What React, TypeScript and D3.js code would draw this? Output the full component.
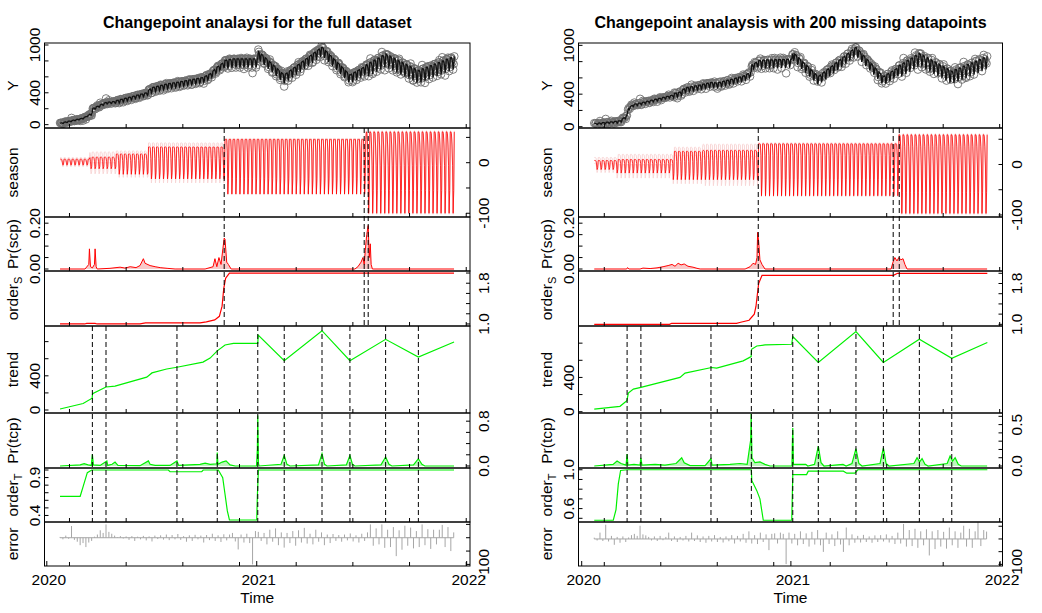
import React from "react";
import * as d3 from "d3";

// ---------------- DATA ----------------
const TIME_TICKS = [2020.108, 2020.378, 2020.648, 2020.918, 2021.188, 2021.458, 2021.728, 2021.998];
const YEAR_TICKS = [2020, 2021, 2022];
const MISSING_PHASE = [1, 4, 8]; // day index mod 10 that are missing in the right panel

// ----- full dataset (left) -----
const L_START = 2020.063;
const L_END = 2021.94;
const L_TREND_X = [2020.063, 2020.173, 2020.216, 2020.218, 2020.282, 2020.325, 2020.476, 2020.501, 2020.571, 2020.62, 2020.744, 2020.778, 2020.812, 2020.849, 2020.889, 2021.005, 2021.007, 2021.131, 2021.311, 2021.444, 2021.614, 2021.77, 2021.94];
const L_TREND_V = [12, 76, 138, 192, 269, 280, 384, 434, 480, 500, 561, 607, 692, 761, 779, 779, 876, 577, 928, 577, 827, 619, 796];
const L_SEASON_START = [2020.063, 2020.205, 2020.33, 2020.48, 2020.845, 2021.52];
const L_SEASON_PROFILE = [
  [7, 7, 7, 6, 1, -5, -3],
  [11, 11, 11, 10, 2, -12, -8],
  [17, 17, 17, 16, 4, -23, -12],
  [31, 31, 31, 30, 8, -32, -20],
  [46, 46, 46, 46, 21, -62, -32],
  [61, 61, 58, 35, -5, -100, -55],
];
const L_SEASON_CI = [3, 10, 6, 8, 2, 2];
const L_SEASON_CP = [2020.845, 2021.512, 2021.531];
const L_TREND_CP = [2020.217, 2020.282, 2020.62, 2020.812, 2021.005, 2021.131, 2021.311, 2021.444, 2021.614, 2021.77];
const L_PRSCP_X = [2020.063, 2020.182, 2020.2, 2020.203, 2020.208, 2020.217, 2020.227, 2020.23, 2020.235, 2020.24, 2020.301, 2020.349, 2020.373, 2020.397, 2020.425, 2020.444, 2020.46, 2020.468, 2020.492, 2020.516, 2020.54, 2020.573, 2020.611, 2020.754, 2020.792, 2020.801, 2020.81, 2020.82, 2020.83, 2020.839, 2020.845, 2020.849, 2020.857, 2020.865, 2020.878, 2021.468, 2021.482, 2021.497, 2021.506, 2021.512, 2021.517, 2021.524, 2021.531, 2021.536, 2021.541, 2021.545, 2021.551, 2021.94];
const L_PRSCP_V = [0, 0, 0.02, 0.088, 0.01, 0.005, 0.02, 0.088, 0.01, 0, 0.003, 0.008, 0.004, 0.01, 0.006, 0.015, 0.045, 0.025, 0.015, 0.01, 0.006, 0.003, 0, 0, 0.01, 0.045, 0.01, 0.05, 0.02, 0.09, 0.135, 0.13, 0.03, 0.02, 0, 0, 0.01, 0.03, 0.05, 0.02, 0.08, 0.15, 0.19, 0.05, 0.11, 0.02, 0, 0];
const L_ORDERS_X = [2020.063, 2020.18, 2020.19, 2020.23, 2020.24, 2020.444, 2020.47, 2020.73, 2020.76, 2020.8, 2020.822, 2020.835, 2020.843, 2020.852, 2020.87, 2021.94];
const L_ORDERS_V = [1.0, 1.0, 1.01, 1.01, 1.0, 1.0, 1.02, 1.02, 1.04, 1.08, 1.15, 1.35, 1.7, 1.9, 2.0, 2.0];
const L_PRTCP_X = [2020.063, 2020.159, 2020.178, 2020.197, 2020.212, 2020.217, 2020.222, 2020.254, 2020.286, 2020.29, 2020.311, 2020.325, 2020.339, 2020.444, 2020.484, 2020.492, 2020.516, 2020.587, 2020.62, 2020.628, 2020.73, 2020.754, 2020.778, 2020.81, 2020.812, 2020.815, 2020.835, 2020.854, 2020.873, 2020.897, 2020.999, 2021.003, 2021.005, 2021.008, 2021.011, 2021.116, 2021.131, 2021.144, 2021.159, 2021.294, 2021.311, 2021.323, 2021.335, 2021.427, 2021.444, 2021.456, 2021.468, 2021.592, 2021.614, 2021.63, 2021.644, 2021.747, 2021.77, 2021.787, 2021.801, 2021.94];
const L_PRTCP_V = [0, 0.02, 0.04, 0.02, 0.01, 0.21, 0.02, 0.01, 0.09, 0.01, 0.03, 0.07, 0.01, 0.005, 0.09, 0.03, 0.01, 0.01, 0.09, 0.01, 0.03, 0.05, 0.03, 0.04, 0.24, 0.03, 0.07, 0.09, 0.02, 0, 0, 0.3, 0.9, 0.05, 0, 0.03, 0.19, 0.03, 0, 0.02, 0.22, 0.03, 0, 0.02, 0.19, 0.03, 0, 0.02, 0.16, 0.03, 0, 0.02, 0.13, 0.03, 0, 0];
const L_ORDERT_X = [2020.063, 2020.159, 2020.174, 2020.193, 2020.214, 2020.579, 2020.587, 2020.738, 2020.745, 2020.817, 2020.838, 2020.849, 2020.86, 2020.87, 2021.0, 2021.003, 2021.008, 2021.94];
const L_ORDERT_V = [0.653, 0.653, 0.79, 0.965, 1.0, 1.0, 0.977, 0.977, 1.0, 1.0, 0.9, 0.68, 0.46, 0.34, 0.34, 0.656, 1.0, 1.0];
const L_ERROR = [
  3, -6, 8, -4, 44, -8, -15, -28, -20, -35, -18, -12, 4, 12, 28, 18, 50, 22, 15, 8, 2, 6, -3, 5,
  -8, 6, -12, 4, -6, 7, -10, 5, -14, 8, -5, 9, -7, 12, -9, 10, -6, 14, -8, 6, -15, 9, -12, 11,
  -6, 8, -18, 10, -9, 15, -12, 9, -16, 13, -10, 12, 18, -14, -44, 12, -18, 15, -20, -100, 25, 22,
  -12, 18, -25, 30, -15, 35, -28, 20, -37, 18, -20, 25, -30, 28, -18, 37, -22, 15, -25, 30, -15, 20,
  -28, 12, -20, 14, -12, 10, -15, 12, -10, 16, -14, 9, -18, 15, -12, 20, 50, -30, 35, -25, 50, -38,
  30, -35, 40, -69, 28, -45, 45, -30, 38, -40, 25, -35, 50, -28, 32, -42, 30, -25, 30, 48, -35, 40, -50, 20,
];

// ----- 200 missing datapoints (right) -----
const R_START = 2020.06;
const R_END = 2021.939;
const R_TREND_X = [2020.06, 2020.183, 2020.216, 2020.223, 2020.247, 2020.283, 2020.47, 2020.494, 2020.621, 2020.645, 2020.772, 2020.81, 2020.812, 2020.837, 2020.876, 2021.004, 2021.009, 2021.131, 2021.311, 2021.442, 2021.614, 2021.769, 2021.939];
const R_TREND_V = [31, 63, 128, 217, 264, 284, 400, 450, 516, 508, 593, 644, 729, 767, 779, 787, 877, 574, 935, 574, 845, 624, 807];
const R_SEASON_START = [2020.06, 2020.169, 2020.437, 2020.58, 2020.843, 2021.516];
const R_SEASON_PROFILE = [
  [8, 8, 8, 7, 1, -10, -6],
  [10, 10, 10, 9, 2, -17, -10],
  [26, 26, 26, 25, 6, -30, -18],
  [28, 28, 28, 27, 8, -30, -20],
  [41, 41, 41, 40, 18, -62, -30],
  [59, 59, 56, 35, -3, -97, -55],
];
const R_SEASON_CI = [6, 10, 8, 12, 2, 2];
const R_SEASON_CP = [2020.844, 2021.489, 2021.518];
const R_TREND_CP = [2020.217, 2020.283, 2020.618, 2020.811, 2021.009, 2021.131, 2021.311, 2021.442, 2021.614, 2021.769];
const R_PRSCP_X = [2020.06, 2020.215, 2020.219, 2020.226, 2020.279, 2020.293, 2020.327, 2020.36, 2020.389, 2020.413, 2020.432, 2020.446, 2020.461, 2020.475, 2020.49, 2020.508, 2020.532, 2020.551, 2020.566, 2020.781, 2020.805, 2020.819, 2020.831, 2020.838, 2020.841, 2020.846, 2020.852, 2020.862, 2020.876, 2021.479, 2021.488, 2021.497, 2021.507, 2021.516, 2021.526, 2021.536, 2021.545, 2021.555, 2021.938];
const R_PRSCP_V = [0, 0, 0.006, 0, 0, 0.004, 0.002, 0.005, 0.01, 0.015, 0.02, 0.012, 0.025, 0.018, 0.022, 0.012, 0.008, 0.003, 0, 0, 0.01, 0.025, 0.02, 0.05, 0.16, 0.12, 0.04, 0.02, 0, 0, 0.03, 0.05, 0.035, 0.05, 0.04, 0.045, 0.02, 0, 0];
const R_ORDERS_X = [2020.06, 2020.42, 2020.43, 2020.74, 2020.76, 2020.8, 2020.825, 2020.833, 2020.84, 2020.846, 2020.862, 2021.49, 2021.51, 2021.939];
const R_ORDERS_V = [1.0, 1.0, 1.02, 1.02, 1.04, 1.08, 1.2, 1.35, 1.6, 1.8, 1.96, 1.96, 2.0, 2.0];
const R_PRTCP_X = [2020.06, 2020.15, 2020.169, 2020.188, 2020.212, 2020.217, 2020.221, 2020.25, 2020.279, 2020.283, 2020.288, 2020.351, 2020.398, 2020.451, 2020.478, 2020.49, 2020.518, 2020.59, 2020.618, 2020.623, 2020.709, 2020.757, 2020.791, 2020.808, 2020.81, 2020.814, 2020.828, 2020.852, 2020.876, 2020.9, 2021.005, 2021.007, 2021.009, 2021.012, 2021.071, 2021.081, 2021.113, 2021.131, 2021.144, 2021.158, 2021.249, 2021.264, 2021.292, 2021.311, 2021.325, 2021.34, 2021.426, 2021.442, 2021.455, 2021.469, 2021.588, 2021.603, 2021.615, 2021.627, 2021.641, 2021.656, 2021.747, 2021.761, 2021.773, 2021.785, 2021.8, 2021.814, 2021.938];
const R_PRTCP_V = [0, 0.02, 0.06, 0.03, 0.01, 0.145, 0.01, 0.02, 0.01, 0.1, 0.01, 0.02, 0.01, 0.03, 0.1, 0.04, 0.005, 0.005, 0.09, 0.01, 0.02, 0.03, 0.02, 0.32, 0.63, 0.1, 0.04, 0.05, 0.02, 0, 0, 0.28, 0.46, 0.02, 0.02, 0, 0.02, 0.24, 0.04, 0, 0.02, 0, 0.03, 0.21, 0.03, 0, 0.03, 0.22, 0.03, 0, 0.03, 0.1, 0.05, 0.09, 0.02, 0, 0.03, 0.12, 0.06, 0.1, 0.02, 0, 0];
const R_ORDERT_X = [2020.06, 2020.151, 2020.164, 2020.175, 2020.186, 2020.217, 2020.811, 2020.813, 2020.837, 2020.852, 2020.868, 2021.004, 2021.009, 2021.075, 2021.083, 2021.251, 2021.267, 2021.306, 2021.32, 2021.939];
const R_ORDERT_V = [0.48, 0.48, 0.59, 0.855, 0.993, 1.0, 1.0, 0.89, 0.785, 0.7, 0.48, 0.48, 0.95, 0.95, 0.985, 0.985, 0.965, 0.965, 1.0, 1.0];
const R_ERROR = [
  5, -6, 25, -8, 56, -10, 12, -23, 8, -15, 10, -12, 6, 15, 20, 12, 52, 18, 14, 8, -6, 10, -8, 12,
  -5, 8, 25, -8, 10, -12, 8, -6, 12, -10, 25, -8, 14, -12, 10, -15, 12, -10, 15, -12, 8, -14, 10, -9,
  15, -18, 12, -10, 20, -15, 30, -18, 15, -20, 25, -12, 18, -44, 20, 22, -18, 25, 20, -99, 25, -18,
  20, -25, 30, -20, 22, -30, 28, -22, 35, -25, -51, 25, -20, 18, -28, 30, -22, -51, 45, -25, 18, -15,
  12, -14, 16, -12, 10, -15, 14, -12, 15, -10, 18, -14, 12, -20, 25, -18, 59, -30, 35, -28, 40, -35,
  30, -25, 38, -65, 30, -40, 35, -30, 28, -38, 45, -25, 30, -35, 25, 52, -30, 40, -35, 30, 66, -28, 35, 29,
];

// axis specifications (domains, ticks, labels) per sub-plot
const ROW_NAMES = ["Y", "season", "Pr(scp)", "order", "trend", "Pr(tcp)", "order", "error"];
const ROW_SUBS = ["", "", "", "S", "", "", "T", ""];
const ROW_SIDES = ["l", "r", "l", "r", "l", "r", "l", "r"];
const L_DOMAINS = [[-42, 1025], [-107.4, 68.6], [-0.0087, 0.227], [0.96, 2.04], [-35, 983], [-0.036, 0.946], [0.3136, 1.0264], [-106, 59]];
const R_DOMAINS = [[-16, 1029], [-104, 72.3], [-0.0087, 0.227], [0.967, 2.045], [-15, 1000], [-0.024, 0.64], [0.462, 1.018], [-106.4, 66.7]];
const L_TICKS = [[0, 200, 400, 600, 800, 1000], [-100, -50, 0, 50], [0, 0.05, 0.1, 0.15, 0.2], [1, 1.2, 1.4, 1.6, 1.8, 2], [0, 200, 400, 600, 800], [0, 0.2, 0.4, 0.6, 0.8], [0.4, 0.5, 0.6, 0.7, 0.8, 0.9, 1.0], [-100, -50, 0, 50]];
const R_TICKS = [[0, 200, 400, 600, 800, 1000], [-100, -50, 0, 50], [0, 0.05, 0.1, 0.15, 0.2], [1, 1.2, 1.4, 1.6, 1.8, 2], [0, 200, 400, 600, 800], [0, 0.1, 0.2, 0.3, 0.4, 0.5, 0.6], [0.5, 0.6, 0.7, 0.8, 0.9, 1.0], [-100, -50, 0, 50]];
const L_LABELS = [[[0, "0"], [400, "400"], [1000, "1000"]], [[-100, "-100"], [0, "0"]], [[0, "0.00"], [0.2, "0.20"]], [[1, "1.0"], [1.8, "1.8"]], [[0, "0"], [400, "400"]], [[0, "0.0"], [0.8, "0.8"]], [[0.4, "0.4"], [0.9, "0.9"]], [[-100, "-100"]]];
const R_LABELS = [[[0, "0"], [400, "400"], [1000, "1000"]], [[-100, "-100"], [0, "0"]], [[0, "0.00"], [0.2, "0.20"]], [[1, "1.0"], [1.8, "1.8"]], [[0, "0"], [400, "400"]], [[0, "0.0"], [0.5, "0.5"]], [[0.6, "0.6"], [1.0, "1.0"]], [[-100, "-100"]]];

const L_TITLE = "Changepoint analaysi for the full dataset";
const R_TITLE = "Changepoint analaysis with 200 missing datapoints";

// ---------------- LAYOUT / STYLE ----------------
const W = 1042;
const H = 613;
const ROWS = [43, 128, 217, 271, 326, 413, 468, 522, 566];
const FONT = "'Liberation Sans', Arial, Helvetica, sans-serif";
const FS = 15.5;
const RED = "#FF0000";
const GREEN = "#00F000";

const LEFT = {
  id: "L", x0: 44.5, x1: 470, xDomain: [2019.989, 2022.016], title: L_TITLE,
  start: L_START, end: L_END, trendX: L_TREND_X, trendV: L_TREND_V,
  seasonStart: L_SEASON_START, seasonProfile: L_SEASON_PROFILE, seasonCI: L_SEASON_CI,
  seasonCP: L_SEASON_CP, trendCP: L_TREND_CP, prscpX: L_PRSCP_X, prscpV: L_PRSCP_V,
  ordersX: L_ORDERS_X, ordersV: L_ORDERS_V, prtcpX: L_PRTCP_X, prtcpV: L_PRTCP_V,
  ordertX: L_ORDERT_X, ordertV: L_ORDERT_V, error: L_ERROR, missing: false,
  domains: L_DOMAINS, ticks: L_TICKS, labels: L_LABELS,
};
const RIGHT = {
  id: "R", x0: 578.5, x1: 1002.5, xDomain: [2019.9847, 2022.0115], title: R_TITLE,
  start: R_START, end: R_END, trendX: R_TREND_X, trendV: R_TREND_V,
  seasonStart: R_SEASON_START, seasonProfile: R_SEASON_PROFILE, seasonCI: R_SEASON_CI,
  seasonCP: R_SEASON_CP, trendCP: R_TREND_CP, prscpX: R_PRSCP_X, prscpV: R_PRSCP_V,
  ordersX: R_ORDERS_X, ordersV: R_ORDERS_V, prtcpX: R_PRTCP_X, prtcpV: R_PRTCP_V,
  ordertX: R_ORDERT_X, ordertV: R_ORDERT_V, error: R_ERROR, missing: true,
  domains: R_DOMAINS, ticks: R_TICKS, labels: R_LABELS,
};

function Panel({ p }: { p: any }) {
  const { x0, x1 } = p;
  const xs = d3.scaleLinear().domain(p.xDomain).range([x0, x1]);
  const ys = ROWS.slice(0, 8).map((top, r) =>
    d3.scaleLinear().domain(p.domains[r]).range([ROWS[r + 1], top])
  );

  // daily decomposition: fitted = trend + season, observed = fitted + error
  const n = Math.round((p.end - p.start) * 365.25);
  const days = d3.range(n + 1);
  const tOf = (i: number) => p.start + i / 365.25;
  const trendAt = d3.scaleLinear().domain(p.trendX).range(p.trendV).clamp(true);
  const segOf = (t: number) => Math.max(0, d3.bisectRight(p.seasonStart, t) - 1);
  const season = days.map((i) => p.seasonProfile[segOf(tOf(i))][i % 7]);
  const ci = days.map((i) => p.seasonCI[segOf(tOf(i))]);
  const fitted = days.map((i) => trendAt(tOf(i)) + season[i]);
  const obsDays = days.filter((i) => !(p.missing && MISSING_PHASE.includes(i % 10)));
  const obs = obsDays.map((i) => ({
    t: tOf(i),
    v: fitted[i] + (i % 5 === 0 ? p.error[i / 5] ?? 0 : 0),
  }));

  const lineIdx = (r: number, vals: number[]) =>
    d3.line<number>().x((i) => xs(tOf(i))).y((i) => ys[r](vals[i]))(days) || "";
  const lineXY = (r: number, X: number[], V: number[]) =>
    d3.line<number>().x((_, k) => xs(X[k])).y((v) => ys[r](v))(V) || "";
  const areaXY = (r: number, X: number[], V: number[]) =>
    d3.area<number>().x((_, k) => xs(X[k])).y0(ys[r](0)).y1((v) => ys[r](v))(V) || "";
  const errX = (k: number) => xs(p.start + (k * 5) / 365.25);
  const errNeedles = p.error
    .map((v: number, k: number) => `M${errX(k)},${ys[7](0)}L${errX(k)},${ys[7](v)}`)
    .join("");

  const upper = days.map((i) => season[i] + ci[i]);
  const lower = days.map((i) => season[i] - ci[i]);

  const clip = (r: number) => `url(#clip${p.id}${r})`;

  return (
    <g>
      <defs>
        {ROWS.slice(0, 8).map((top, r) => (
          <clipPath id={`clip${p.id}${r}`} key={r}>
            <rect x={x0} y={top} width={x1 - x0} height={ROWS[r + 1] - top} />
          </clipPath>
        ))}
      </defs>
      <text x={(x0 + x1) / 2} y={28} textAnchor="middle" fontWeight="bold" fontSize={16}>
        {p.title}
      </text>

      {/* Y */}
      <g clipPath={clip(0)}>
        {obs.map((o: any, k: number) => (
          <circle key={k} cx={xs(o.t)} cy={ys[0](o.v)} r={3.8} fill="none" stroke="#6f6f6f" strokeWidth={0.9} />
        ))}
        <path d={lineIdx(0, fitted)} fill="none" stroke="#111" strokeWidth={1.3} />
      </g>
      {/* season */}
      <g clipPath={clip(1)}>
        <path d={lineIdx(1, upper)} fill="none" stroke="#F8D6D6" strokeWidth={1} />
        <path d={lineIdx(1, lower)} fill="none" stroke="#F8D6D6" strokeWidth={1} />
        <path d={lineIdx(1, season)} fill="none" stroke={RED} strokeWidth={0.8} />
      </g>
      {/* Pr(scp) */}
      <g clipPath={clip(2)}>
        <path d={areaXY(2, p.prscpX, p.prscpV)} fill="#F9C9C9" stroke="none" />
        <path d={lineXY(2, p.prscpX, p.prscpV)} fill="none" stroke={RED} strokeWidth={1} />
      </g>
      {/* orders */}
      <g clipPath={clip(3)}>
        <path d={lineXY(3, p.ordersX, p.ordersV)} fill="none" stroke={RED} strokeWidth={1.2} />
      </g>
      {/* trend */}
      <g clipPath={clip(4)}>
        <path d={lineXY(4, p.trendX, p.trendV)} fill="none" stroke={GREEN} strokeWidth={1.2} />
      </g>
      {/* Pr(tcp) */}
      <g clipPath={clip(5)}>
        <path d={areaXY(5, p.prtcpX, p.prtcpV)} fill="#BDF5BD" stroke="none" />
        <path d={lineXY(5, p.prtcpX, p.prtcpV)} fill="none" stroke={GREEN} strokeWidth={1.2} />
      </g>
      {/* orderT */}
      <g clipPath={clip(6)}>
        <path d={lineXY(6, p.ordertX, p.ordertV)} fill="none" stroke={GREEN} strokeWidth={1.2} />
      </g>
      {/* error */}
      <g clipPath={clip(7)}>
        <line x1={errX(0)} x2={errX(p.error.length - 1)} y1={ys[7](0)} y2={ys[7](0)} stroke="#A6A6A6" strokeWidth={1} />
        <path d={errNeedles} fill="none" stroke="#A6A6A6" strokeWidth={1} />
      </g>

      {/* changepoint lines */}
      {p.seasonCP.map((c: number, k: number) => (
        <line key={"s" + k} x1={xs(c)} x2={xs(c)} y1={ROWS[1]} y2={ROWS[4]} stroke="#000" strokeDasharray="5,3" strokeWidth={1} />
      ))}
      {p.trendCP.map((c: number, k: number) => (
        <line key={"t" + k} x1={xs(c)} x2={xs(c)} y1={ROWS[4]} y2={ROWS[7]} stroke="#000" strokeDasharray="5,3" strokeWidth={1} />
      ))}

      {/* frames, ticks and labels */}
      {ROWS.slice(0, 8).map((top, r) => {
        const bot = ROWS[r + 1];
        const side = ROW_SIDES[r];
        const ax = side === "l" ? x0 : x1;
        const dir = side === "l" ? 1 : -1;
        const mid = (top + bot) / 2;
        return (
          <g key={r}>
            <rect x={x0} y={top} width={x1 - x0} height={bot - top} fill="none" stroke="#000" strokeWidth={1} />
            {p.ticks[r].map((tv: number, k: number) => (
              <line key={k} x1={ax} x2={ax + dir * 4} y1={ys[r](tv)} y2={ys[r](tv)} stroke="#000" />
            ))}
            {p.labels[r].map((lb: any, k: number) => (
              <text
                key={"l" + k}
                transform={`translate(${side === "l" ? x0 - 5 : x1 + 19},${ys[r](lb[0])}) rotate(-90)`}
                textAnchor="middle"
                fontSize={FS}
              >
                {lb[1]}
              </text>
            ))}
            {TIME_TICKS.map((tv, k) => (
              <line key={"x" + k} x1={xs(tv)} x2={xs(tv)} y1={bot} y2={bot - 4} stroke="#000" />
            ))}
            <text transform={`translate(${x0 - 27},${mid}) rotate(-90)`} textAnchor="middle" fontSize={FS}>
              {ROW_NAMES[r]}
              {ROW_SUBS[r] ? (
                <tspan dy={4} fontSize={11}>
                  {ROW_SUBS[r]}
                </tspan>
              ) : null}
            </text>
          </g>
        );
      })}

      {/* bottom time axis */}
      {YEAR_TICKS.map((yv, k) => (
        <g key={"y" + k}>
          <line x1={xs(yv)} x2={xs(yv)} y1={ROWS[8]} y2={ROWS[8] - 5} stroke="#000" />
          <text x={xs(yv) + 2} y={585} textAnchor="middle" fontSize={FS}>
            {yv}
          </text>
        </g>
      ))}
      <text x={(x0 + x1) / 2} y={603} textAnchor="middle" fontSize={FS}>
        Time
      </text>
    </g>
  );
}

export default function App() {
  return (
    <svg
      width={W}
      height={H}
      style={{ position: "absolute", left: 0, top: 0, display: "block", background: "#fff" }}
      fontFamily={FONT}
    >
      <rect width={W} height={H} fill="#fff" />
      <Panel p={LEFT} />
      <Panel p={RIGHT} />
    </svg>
  );
}
